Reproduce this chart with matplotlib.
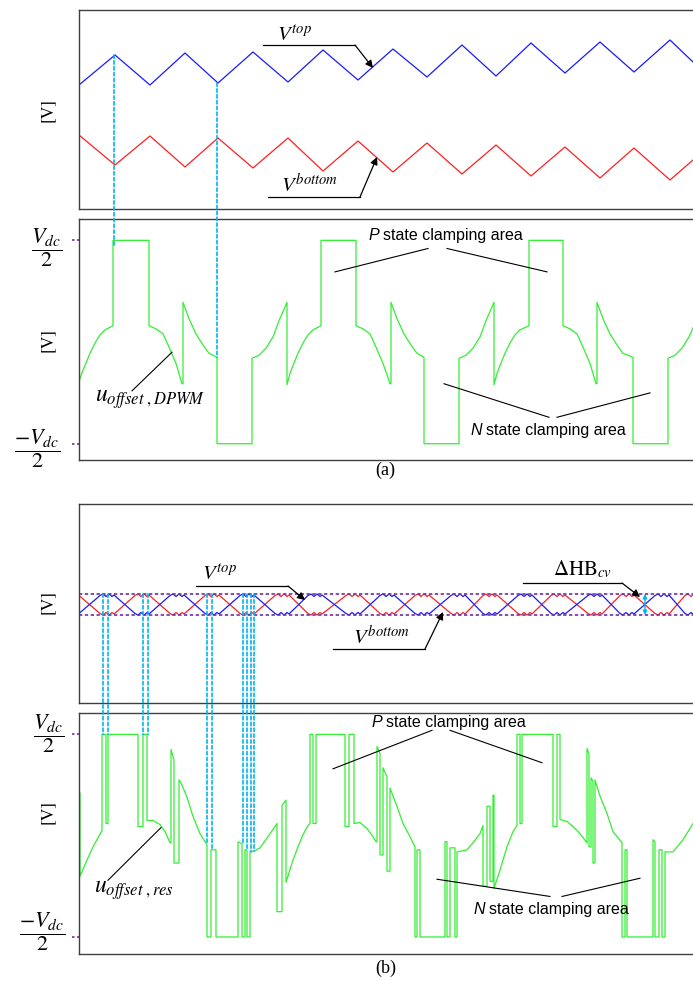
import matplotlib
matplotlib.use('Agg')
import matplotlib.pyplot as plt
from matplotlib.patches import ConnectionPatch
import numpy as np

plt.rcParams['mathtext.fontset'] = 'stix'

# time axis in a.u. (0 = left frame), voltages in V with Vdc/2 = 100

# (a) carriers, vertices of the triangles
blue_a_t = [0, 36, 71, 106, 139, 174, 209, 244, 279, 314, 348, 383, 417, 452, 486, 521, 555, 591, 614]
blue_a_v = [25, 55, 25, 57, 27, 58, 28, 60, 30, 61, 33, 65, 34, 67, 37, 68, 38, 70, 48]
red_a_v = [-25, -55, -26, -57, -28, -58, -28, -61, -31, -62, -33, -64, -35, -66, -37, -68, -38, -70, -50]

# (a) offset voltage u_offset,DPWM
green_a = [(0, 41), (0, -39), (3, -30), (6, -23), (11, -11), (16, -1), (21, 7), (26, 12), (34, 16),
           (34, 100), (70, 100), (70, 16), (77, 13), (84, 8), (90, -5), (97, -21), (103, -41), (104, -41),
           (104, 39), (110, 23), (117, 8), (124, -3), (130, -11), (138, -15), (138, -100), (173, -100),
           (173, -16), (180, -13), (187, -6), (194, 5), (200, 21), (208, 39), (208, -42), (211, -31),
           (214, -23), (219, -11), (224, -1), (229, 7), (234, 12), (242, 16), (242, 100), (277, 100),
           (277, 16), (284, 13), (291, 8), (297, -5), (304, -21), (311, -41), (312, -41), (312, 39),
           (318, 23), (325, 8), (332, -3), (338, -11), (345, -15), (345, -100), (380, -100), (380, -16),
           (387, -13), (394, -6), (401, 5), (407, 21), (415, 39), (415, -42), (418, -31), (421, -23),
           (426, -11), (431, -1), (436, 7), (441, 12), (450, 16), (450, 100), (484, 100), (484, 16),
           (491, 13), (498, 8), (504, -5), (511, -21), (517, -41), (518, -41), (518, 39), (524, 23),
           (531, 8), (538, -3), (544, -11), (554, -15), (554, -100), (589, -100), (589, -16), (596, -13),
           (603, -6), (610, 5), (614, 14)]

# (a) cyan links: time, value on carrier, value on offset
link_a_t = [35, 138]
link_a_top = [55, 27]
link_a_bot = [95, -15]

# (b) carriers: plateau centres, band half width, plateau ripple
band_b = 10.5
blue_b_tops = [28, 98, 168, 236, 308, 379, 446, 516, 583]
blue_b_bots = [63, 133, 203, 274, 343, 411, 479, 548, 613]
ripple_dt = [-7, -4, -1, 2, 5, 7]
ripple_dv = [-1.5, 0, -2.5, 0, -2.5, -1]

# (b) offset voltage u_offset,res
green_b = [(1, 42), (1, -40), (8, -24), (14, -11), (23, 5), (23, 100), (27, 100), (27, 12), (29, 12),
           (29, 100), (59, 100), (59, 9), (64, 9), (64, 100), (68, 100), (68, 15), (74, 15), (81, 11),
           (86, 4), (91, -7), (92, -7), (92, 85), (95, 75), (95, -27), (100, -27), (100, 55), (103, 50),
           (108, 38), (114, 19), (121, 2), (128, -9), (128, -100), (132, -100), (132, -14), (137, -14),
           (137, -100), (159, -100), (159, -6), (163, -8), (163, -100), (166, -100), (166, -14), (168, -14),
           (168, -100), (171, -100), (171, -16), (176, -15), (181, -12), (189, -1), (198, 12), (198, -75),
           (203, -75), (203, 30), (207, 35), (207, -46), (214, -24), (219, -11), (224, 1), (229, 10),
           (231, 12), (231, 100), (234, 100), (234, 12), (237, 12), (237, 100), (266, 100), (266, 9),
           (270, 9), (270, 100), (275, 100), (275, 12), (281, 13), (288, 7), (294, -1), (297, -6),
           (298, -6), (298, 88), (301, 81), (301, -19), (304, -19), (304, 67), (308, 58), (308, -35),
           (311, -35), (311, 47), (318, 29), (324, 12), (331, -1), (336, -11), (336, -100), (338, -100),
           (338, -14), (341, -14), (341, -100), (366, -100), (366, -6), (368, -6), (368, -100), (371, -100),
           (371, -12), (376, -12), (376, -100), (378, -100), (378, -16), (388, -14), (394, -7), (401, 2),
           (404, 10), (404, -50), (408, -50), (408, 29), (411, 29), (411, -45), (414, -45), (414, 40),
           (415, 40), (415, -52), (421, -34), (428, -11), (434, 4), (438, 10), (438, 100), (441, 100),
           (441, 12), (443, 12), (443, 100), (474, 100), (474, 9), (478, 9), (478, 100), (481, 100),
           (481, 16), (488, 14), (494, 9), (501, 2), (508, -7), (508, 86), (510, 81), (510, -11),
           (512, -11), (512, 57), (514, 54), (514, -27), (516, -27), (516, 55), (521, 39), (528, 22),
           (534, 4), (543, -7), (543, -100), (546, -100), (546, -14), (548, -14), (548, -100), (574, -100),
           (574, -4), (576, -6), (576, -100), (580, -100), (580, -14), (583, -14), (583, -100),
           (586, -100), (586, -16), (594, -16), (604, -4), (614, 12)]

link_b_t = [24, 29, 64, 69, 128, 133, 164, 168, 172, 175]
link_b_bot = [100, 100, 100, 100, -9, -14, -8, -14, -16, -15]

BLUE = '#1a1aff'
RED = '#ff2020'
GREEN = '#33ee33'
CYAN = '#00b4f0'
PURPLE = '#7030a0'
FRAME = '#404040'

W, H = 693, 981
fig = plt.figure(figsize=(W / 100, H / 100), dpi=100)


def box(top, bottom, left=79, right=700):
    return [left / W, 1 - bottom / H, (right - left) / W, (bottom - top) / H]


def make_ax(top, bottom, ylim):
    ax = fig.add_axes(box(top, bottom))
    ax.set_xlim(0, 621)
    ax.set_ylim(*ylim)
    ax.set_xticks([])
    ax.set_yticks([])
    for s in ax.spines.values():
        s.set_color(FRAME)
        s.set_linewidth(1.0)
    return ax


ax_at = make_ax(10, 209, (-99, 100))
ax_ab = make_ax(219, 460, (-116, 121))
ax_bt = make_ax(504, 703, (-98.5, 100.5))
ax_bb = make_ax(713, 954, (-116.8, 121.1))

# ---- (a) top: carriers
ax_at.plot(blue_a_t, blue_a_v, color=BLUE, lw=0.9)
ax_at.plot(blue_a_t, red_a_v, color=RED, lw=0.9)

# ---- (a) bottom: offset
ga = np.array(green_a)
ax_ab.plot(ga[:, 0], ga[:, 1], color=GREEN, lw=0.9)

# ---- (b) top: carriers with ripple on the plateaus
def carrier(start_v, tops, bots):
    ext = sorted([(c, 1) for c in tops] + [(c, -1) for c in bots])
    ts, vs = [0], [start_v]
    for c, s in ext:
        for dt, dv in zip(ripple_dt, ripple_dv):
            ts.append(c + dt)
            vs.append(s * (band_b + dv))
    return ts, vs


bt, bv = carrier(-9, blue_b_tops, blue_b_bots)
rt, rv = carrier(9, blue_b_bots, blue_b_tops)
ax_bt.plot(rt, rv, color=RED, lw=0.9)
ax_bt.plot(bt, bv, color=BLUE, lw=0.9)
for lvl in (band_b, -band_b):
    ax_bt.axhline(lvl, color=PURPLE, ls=(0, (2, 1.5)), lw=1.2)

gb = np.array(green_b)
ax_bb.plot(gb[:, 0], gb[:, 1], color=GREEN, lw=0.9)

# ---- cyan links between panels
def link(ax1, ax2, t, v1, v2):
    con = ConnectionPatch(xyA=(t, v1), coordsA=ax1.transData, xyB=(t, v2), coordsB=ax2.transData,
                          color=CYAN, ls=(0, (2, 1.5)), lw=1.2)
    fig.add_artist(con)


for t, v1, v2 in zip(link_a_t, link_a_top, link_a_bot):
    link(ax_at, ax_ab, t, v1, v2)
for t, v2 in zip(link_b_t, link_b_bot):
    link(ax_bt, ax_bb, t, band_b, v2)

# ---- callouts
def callout(ax, label, txt_xy, ul, target, size=15):
    ax.text(txt_xy[0], txt_xy[1], label, ha='center', va='bottom', fontsize=size)
    ax.plot(ul[0], ul[1], color='k', lw=0.9, clip_on=False)
    ax.annotate('', xy=target, xytext=(ul[0][1], ul[1][1]),
                arrowprops=dict(arrowstyle='-|>', color='k', lw=0.9, mutation_scale=11,
                                shrinkA=0, shrinkB=0))


callout(ax_at, r'$V^{top}$', (216, 66), ([184, 276], [65, 65]), (294, 42))
callout(ax_at, r'$V^{bottom}$', (231, -85), ([189, 281], [-87, -87]), (298, -47))
callout(ax_bt, r'$V^{top}$', (141, 21), ([117, 209], [18.5, 18.5]), (226, 4.5))
callout(ax_bt, r'$V^{bottom}$', (303, -43), ([254, 346], [-44.5, -44.5]), (364, -7.5))
callout(ax_bt, r'$\Delta\mathrm{HB}_{cv}$', (504, 24), ([444, 543], [21.5, 21.5]), (561, 7.5), size=15)
ax_bt.annotate('', xy=(566, band_b), xytext=(566, -band_b),
               arrowprops=dict(arrowstyle='<|-|>', color=CYAN, lw=1.0, mutation_scale=6,
                               shrinkA=0, shrinkB=0))


def area_label(ax, letter, x_split, y, lines):
    ax.text(x_split - 2, y, letter, ha='right', va='center', fontsize=11.5,
            family='Liberation Sans', style='italic')
    ax.text(x_split + 2, y, 'state clamping area', ha='left', va='center', fontsize=11.5,
            family='Liberation Sans')
    for (x0, y0), (x1, y1) in lines:
        ax.plot([x0, x1], [y0, y1], color='k', lw=0.8)


area_label(ax_ab, 'P', 302, 105, [((349, 92), (256, 69)), ((368, 92), (468, 69))])
area_label(ax_ab, 'N', 405, -86.5, [((470, -74), (365, -41)), ((478, -74), (571, -50))])
area_label(ax_bb, 'P', 305, 112, [((353, 104), (254, 66)), ((371, 104), (463, 72))])
area_label(ax_bb, 'N', 408, -73, [((471, -60), (358, -43)), ((483, -60), (561, -42))])

ax_ab.text(71, -56, r'$u_{offset\ ,DPWM}$', ha='center', va='center', fontsize=17)
ax_ab.plot([53, 93], [-48, -10], color='k', lw=0.8)
ax_bb.text(55, -54, r'$u_{offset\ ,res}$', ha='center', va='center', fontsize=17)
ax_bb.plot([29, 82], [-44, 8], color='k', lw=0.8)

# ---- y tick marks and fraction labels
for ax, (xp, xn), (yp, yn) in [(ax_ab, (47, 37), (93, -105)), (ax_bb, (49, 42), (101, -95))]:
    tr = ax.get_yaxis_transform()
    for lvl in (100, -100):
        ax.plot([-0.012, 0], [lvl, lvl], transform=tr, color=PURPLE, ls=(0, (1.5, 1.5)),
                lw=1.2, clip_on=False)
    ax.text((xp - 79) / 621, yp, r'$\dfrac{V_{dc}}{2}$', transform=tr, ha='center', va='center',
            fontsize=16)
    ax.text((xn - 79) / 621, yn, r'$\dfrac{-V_{dc}}{2}$', transform=tr, ha='center', va='center',
            fontsize=16)

for yc in (110, 340, 602, 812):
    fig.text(48 / W, 1 - yc / H, '[V]', rotation=90, ha='center', va='center', fontsize=12.5,
             family='STIXGeneral')

fig.text(385 / W, 1 - 470 / H, '(a)', ha='center', va='center', fontsize=13, family='Liberation Serif')
fig.text(386 / W, 1 - 968 / H, '(b)', ha='center', va='center', fontsize=13, family='Liberation Serif')

fig.savefig('out.png', dpi=100)
